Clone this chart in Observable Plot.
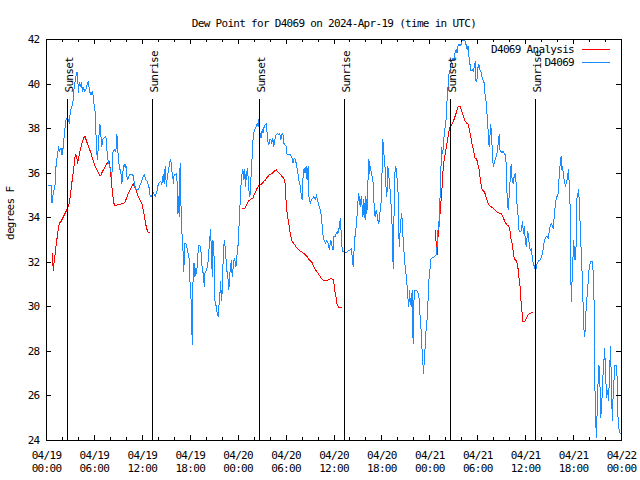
<!DOCTYPE html>
<html><head><meta charset="utf-8">
<script src="https://cdn.jsdelivr.net/npm/d3@7"></script>
<script src="https://cdn.jsdelivr.net/npm/@observablehq/plot@0.6"></script>
<style>body{margin:0;background:#fff}</style>
</head><body><div id="chart"></div>
<script>
const chartTitle = "Dew Point for D4069 on 2024-Apr-19 (time in UTC)";
const yLabel = "degrees F";
const startUTC = Date.UTC(2024, 3, 19);
const xMajorHours = [0, 6, 12, 18, 24, 30, 36, 42, 48, 54, 60, 66, 72];
const xMinorHours = [2, 4, 8, 10, 14, 16, 20, 22, 26, 28, 32, 34, 38, 40, 44, 46, 50, 52, 56, 58, 62, 64, 68, 70];
const yTicks = [24, 26, 28, 30, 32, 34, 36, 38, 40, 42];
const sunLabels = ["Sunset", "Sunrise", "Sunset", "Sunrise", "Sunset", "Sunrise"];
const sunHours = [2.60, 13.27, 26.64, 37.28, 50.54, 61.18];
const seriesNames = ["D4069 Analysis", "D4069"];
const seriesColors = ["#ff0000", "#1a8cff"];

// [hours since 2024-04-19 00:00 UTC, dew point °F]
const analysisDay1 = [[0.69,32.40],[0.86,31.65],[0.98,32.10],[1.19,32.70],[1.40,33.30],[1.61,33.75],[1.82,33.83],[2.02,33.98],[2.23,34.13],[2.44,34.28],[2.65,34.43],[2.86,34.65],[3.07,35.25],[3.27,35.85],[3.44,36.30],[3.61,36.83],[3.77,36.75],[3.90,36.45],[4.02,36.68],[4.23,37.05],[4.44,37.35],[4.65,37.58],[4.82,37.65],[5.02,37.43],[5.27,37.20],[5.57,36.90],[5.86,36.53],[6.11,36.30],[6.40,36.08],[6.61,35.93],[6.77,35.88],[7.02,36.08],[7.36,36.30],[7.65,36.48],[7.86,36.53],[7.98,36.23],[8.15,35.55],[8.27,35.10],[8.44,34.65],[8.61,34.53],[8.90,34.58],[9.32,34.62],[9.82,34.68],[10.02,34.88],[10.36,35.18],[10.65,35.40],[10.86,35.52],[11.11,35.33],[11.40,35.03],[11.69,34.80],[11.94,34.65],[12.11,34.35],[12.27,34.05],[12.44,33.68],[12.65,33.38],[12.86,33.33]];
const analysisDay2 = [[24.51,34.43],[24.84,34.43],[25.05,34.58],[25.26,34.73],[25.55,34.83],[25.84,34.88],[26.09,35.10],[26.38,35.33],[26.59,35.43],[26.80,35.48],[27.01,35.55],[27.22,35.63],[27.42,35.70],[27.63,35.81],[27.92,35.93],[28.26,36.00],[28.51,36.08],[28.76,36.15],[29.01,36.03],[29.30,35.93],[29.59,35.81],[29.84,35.70],[29.92,35.25],[30.01,34.65],[30.13,34.20],[30.34,33.75],[30.55,33.23],[30.76,32.93],[31.09,32.78],[31.38,32.63],[31.71,32.52],[32.01,32.45],[32.34,32.36],[32.63,32.25],[32.92,32.10],[33.26,31.98],[33.46,31.80],[33.76,31.62],[34.09,31.46],[34.42,31.28],[34.71,31.16],[35.01,31.16],[35.34,31.23],[35.67,31.28],[35.95,31.20],[36.07,30.75],[36.24,30.45],[36.37,30.15],[36.57,29.97],[36.91,29.97]];
const analysisDay3 = [[48.66,33.45],[48.74,33.15],[48.82,32.70],[48.91,32.33],[48.99,33.00],[49.07,33.30],[49.16,33.83],[49.28,34.20],[49.41,34.80],[49.49,35.10],[49.62,36.00],[49.74,36.45],[49.91,36.83],[50.07,37.20],[50.24,37.50],[50.32,37.73],[50.53,38.10],[50.74,38.18],[50.95,38.33],[51.16,38.55],[51.37,38.78],[51.57,39.00],[51.78,39.00],[51.99,38.78],[52.20,38.55],[52.41,38.33],[52.62,38.25],[52.82,38.18],[52.95,37.95],[53.12,37.65],[53.24,37.35],[53.45,37.05],[53.66,36.68],[53.85,36.68],[53.97,36.45],[54.14,36.23],[54.27,35.85],[54.39,35.55],[54.56,35.25],[54.81,35.18],[54.97,35.03],[55.14,34.80],[55.39,34.58],[55.64,34.50],[55.93,34.43],[56.22,34.32],[56.47,34.23],[56.77,34.20],[56.97,34.17],[57.14,34.05],[57.31,33.90],[57.47,33.78],[57.64,33.68],[57.89,33.63],[58.02,33.45],[58.14,33.08],[58.31,32.85],[58.47,32.40],[58.60,32.13],[58.85,32.07],[59.02,31.80],[59.14,31.35],[59.31,30.90],[59.39,30.38],[59.52,29.85],[59.64,29.33],[59.89,29.33],[60.10,29.48],[60.31,29.63],[60.52,29.70],[60.72,29.73],[60.85,29.73]];
const stationReadings = [[0.27,35.45],[0.57,35.45],[0.69,34.65],[0.77,34.95],[0.90,35.18],[1.07,35.48],[1.19,36.30],[1.40,36.90],[1.52,37.20],[1.61,36.98],[1.82,37.13],[1.94,36.83],[2.11,37.20],[2.23,37.73],[2.44,38.40],[2.65,38.48],[2.86,38.25],[2.98,38.78],[3.19,39.00],[3.36,39.30],[3.44,39.75],[3.61,40.20],[3.77,40.53],[3.90,40.50],[3.98,39.60],[4.11,40.05],[4.23,39.90],[4.36,40.05],[4.52,39.68],[4.65,39.83],[4.77,39.68],[4.94,39.75],[5.15,40.05],[5.27,40.13],[5.36,39.68],[5.57,39.53],[5.77,39.68],[5.90,39.23],[6.11,38.70],[6.19,37.80],[6.32,36.83],[6.40,36.60],[6.52,37.50],[6.69,38.18],[6.82,37.65],[6.94,37.20],[7.02,37.50],[7.23,37.58],[7.44,37.65],[7.56,37.05],[7.69,36.60],[7.86,36.38],[8.07,36.08],[8.19,35.85],[8.27,36.90],[8.48,37.05],[8.69,36.98],[8.82,37.73],[8.90,37.20],[8.98,36.75],[9.11,36.30],[9.32,36.00],[9.44,35.55],[9.52,35.85],[9.61,36.23],[9.73,36.38],[9.86,36.23],[9.94,36.38],[10.07,35.85],[10.19,35.70],[10.36,35.93],[10.77,35.93],[10.90,35.85],[10.98,35.55],[11.19,35.25],[11.52,35.25],[11.73,35.48],[11.90,35.63],[12.11,35.85],[12.27,35.93],[12.44,35.70],[12.61,35.63],[12.86,35.33],[12.98,34.95],[13.19,34.95],[13.27,35.18],[13.40,35.10],[13.61,34.95],[13.82,35.18],[14.02,35.55],[14.32,35.63],[14.44,35.48],[14.61,35.93],[14.73,35.55],[14.86,36.30],[15.02,35.40],[15.15,35.93],[15.27,36.08],[15.44,36.53],[15.57,36.60],[15.69,36.08],[15.77,36.00],[15.90,35.55],[15.98,35.93],[16.11,35.93],[16.32,36.00],[16.44,34.20],[16.52,34.95],[16.61,34.05],[16.73,36.45],[16.82,34.80],[16.94,33.45],[17.11,32.40],[17.19,31.58],[17.32,32.85],[17.44,32.85],[17.65,32.55],[17.86,32.18],[17.94,31.13],
[18.05,31.05],[18.17,29.25],[18.26,28.32],[18.34,31.05],[18.47,31.95],[18.59,31.35],[18.67,31.73],[18.80,31.50],[18.97,32.40],[19.09,32.78],[19.30,32.70],[19.42,32.10],[19.51,31.65],[19.63,31.50],[19.76,30.90],[19.84,31.50],[20.01,31.65],[20.13,31.80],[20.26,32.10],[20.42,33.00],[20.55,33.45],[20.67,32.25],[20.76,31.35],[20.84,33.00],[20.97,32.40],[21.09,30.30],[21.26,30.00],[21.38,29.70],[21.51,29.55],[21.59,30.00],[21.72,30.60],[21.80,31.13],[21.92,30.30],[22.01,30.75],[22.13,32.25],[22.26,33.00],[22.42,32.55],[22.55,31.65],[22.67,31.50],[22.84,30.75],[22.92,31.50],[23.05,31.65],[23.13,32.10],[23.26,31.35],[23.38,31.80],[23.51,32.18],[23.59,32.10],[23.72,31.80],[23.80,32.10],[23.88,32.40],[24.01,32.85],[24.09,33.53],[24.22,34.50],[24.30,35.10],[24.42,35.85],[24.59,36.15],[24.72,35.70],[24.84,36.15],[24.92,35.40],[25.05,36.00],[25.17,36.23],[25.34,35.25],[25.47,34.95],[25.59,35.70],[25.67,36.30],[25.76,36.75],[25.88,37.65],[26.05,37.95],[26.17,38.03],[26.30,38.10],[26.38,38.25],[26.51,38.10],[26.63,38.52],[26.76,37.65],[26.88,37.58],[27.01,37.95],[27.13,37.80],[27.26,38.10],[27.42,38.18],[27.55,38.25],[27.67,37.50],[27.84,37.28],[27.96,37.50],[28.09,37.50],[28.21,37.35],[28.34,37.58],[28.46,37.20],[28.59,37.50],[28.76,37.73],[28.92,37.77],[29.09,37.73],[29.21,37.77],[29.34,37.50],[29.46,37.73],[29.59,37.80],[29.71,37.35],[29.84,37.28],[30.01,37.20],[30.13,36.83],[30.34,36.83],[30.55,36.83],[30.76,36.68],[30.88,36.45],[31.01,36.68],[31.17,36.60],[31.30,36.38],[31.42,36.15],[31.59,35.70],[31.71,35.55],[31.84,35.18],[32.01,34.80],[32.13,35.85],[32.26,36.23],[32.38,36.00],[32.51,36.30],[32.63,35.70],[32.76,36.30],[32.88,34.80],[33.05,34.65],[33.17,34.80],[33.34,34.88],[33.46,34.95],[33.67,34.80],[33.80,35.03],[33.92,34.80],[34.09,34.58],[34.30,34.35],[34.42,34.05],[34.59,33.30],[34.76,33.00],[34.92,32.85],[35.09,33.00],[35.26,32.85],[35.42,32.55],[35.59,33.00],[35.76,32.70],[35.88,32.55],
[35.99,33.15],[36.16,33.15],[36.28,33.30],[36.41,33.38],[36.49,33.30],[36.57,33.45],[36.70,33.60],[36.78,33.98],[36.91,33.30],[36.99,32.70],[37.12,32.48],[37.32,32.45],[37.62,32.45],[37.82,32.52],[38.03,32.55],[38.16,32.63],[38.24,32.40],[38.32,32.10],[38.41,31.80],[38.49,32.40],[38.57,32.85],[38.66,33.30],[38.78,33.60],[38.91,34.20],[38.99,34.65],[39.07,35.10],[39.20,34.80],[39.28,34.50],[39.41,34.95],[39.49,34.65],[39.62,34.05],[39.74,34.80],[39.82,34.20],[39.91,33.90],[39.99,34.95],[40.12,34.20],[40.24,35.55],[40.37,36.60],[40.49,36.00],[40.57,36.30],[40.66,36.00],[40.78,35.85],[40.91,35.55],[40.99,34.80],[41.07,34.20],[41.16,34.05],[41.28,34.35],[41.41,34.13],[41.49,33.90],[41.62,33.75],[41.74,34.20],[41.87,34.50],[41.99,35.70],[42.12,37.50],[42.20,37.05],[42.32,36.60],[42.45,36.00],[42.53,35.25],[42.62,34.95],[42.74,36.30],[42.82,36.00],[42.91,35.70],[43.03,35.25],[43.16,34.50],[43.24,34.05],[43.32,33.00],[43.41,31.73],[43.49,33.60],[43.57,35.25],[43.66,36.30],[43.78,36.23],[43.91,35.70],[44.03,35.10],[44.16,32.70],[44.24,33.15],[44.37,33.90],[44.49,34.20],[44.57,33.60],[44.66,33.00],[44.78,32.40],[44.91,31.80],[45.03,31.43],[45.16,30.90],[45.28,30.30],[45.37,30.00],[45.45,30.75],[45.57,30.15],[45.70,30.00],[45.78,30.75],[45.87,28.95],[45.91,28.35],[45.99,30.15],[46.12,30.75],[46.28,30.75],[46.45,30.68],[46.62,30.53],[46.70,30.15],[46.78,29.55],[46.91,28.95],[47.03,28.05],[47.12,27.60],[47.20,27.00],[47.28,27.45],[47.37,27.90],[47.49,28.80],[47.62,29.25],[47.74,30.00],[47.82,30.60],[47.91,31.35],[47.99,31.65],[48.07,31.80],[48.16,32.18],[48.37,32.21],[48.57,32.25],[48.78,32.33],[48.91,32.70],[48.99,33.15],[49.07,33.83],[49.16,33.60],[49.24,34.50],[49.32,35.40],[49.41,36.45],[49.45,37.17],[49.53,37.05],[49.62,36.90],[49.74,37.50],[49.87,37.95],[49.99,38.25],[50.07,38.55],[50.16,39.30],[50.28,39.90],[50.41,40.50],[50.53,40.65],[50.66,40.95],[50.78,41.10],[50.91,41.18],[51.03,41.10],[51.16,41.40],[51.28,41.55],[51.41,41.40],[51.53,41.70],[51.66,41.78],[51.78,41.70],[51.91,41.78],[52.03,41.93],[52.16,41.96],[52.28,41.97],[52.41,41.93],[52.53,41.78],[52.66,41.55],[52.78,41.70],[52.91,41.18],[53.03,40.88],[53.16,40.58],[53.32,40.65],[53.45,40.58],[53.57,40.80],[53.70,41.03],[53.77,40.13],
[53.89,40.13],[54.02,40.73],[54.14,40.88],[54.27,40.65],[54.39,40.58],[54.52,40.35],[54.64,40.20],[54.77,40.13],[54.89,39.60],[55.02,39.30],[55.14,38.78],[55.27,38.10],[55.35,37.50],[55.43,37.20],[55.52,37.65],[55.64,38.18],[55.72,37.50],[55.85,37.05],[55.93,36.30],[56.06,36.45],[56.22,36.68],[56.35,36.75],[56.47,37.05],[56.56,37.35],[56.68,37.73],[56.77,37.05],[56.89,36.98],[57.06,36.90],[57.18,36.98],[57.31,36.90],[57.43,36.83],[57.56,36.45],[57.68,34.95],[57.81,34.35],[57.93,34.95],[58.06,35.70],[58.18,36.38],[58.31,35.70],[58.43,35.55],[58.56,35.85],[58.68,36.00],[58.81,35.55],[58.93,34.50],[59.06,34.05],[59.18,33.38],[59.35,33.38],[59.47,33.45],[59.60,33.83],[59.72,33.30],[59.85,33.60],[59.97,32.85],[60.10,32.70],[60.22,33.38],[60.35,33.23],[60.47,32.70],[60.60,32.55],[60.72,32.63],[60.85,32.10],[60.97,31.95],[61.14,31.73],[61.31,31.73],[61.43,31.95],[61.56,32.03],[61.68,32.10],[61.81,32.10],[61.97,32.25],[62.10,32.40],[62.22,32.63],[62.35,33.00],[62.47,33.08],[62.60,33.15],[62.72,33.15],[62.85,33.08],[62.97,33.45],[63.10,33.68],[63.22,33.75],[63.35,33.60],[63.47,33.53],[63.60,34.20],[63.72,34.58],[63.85,34.95],[64.02,34.95],[64.14,35.40],[64.22,36.15],[64.35,36.45],[64.43,36.75],[64.52,36.15],[64.64,36.30],[64.72,35.85],[64.85,35.70],[64.97,35.40],[65.10,35.55],[65.22,35.78],[65.35,36.15],[65.43,35.70],[65.56,34.58],[65.64,31.65],[65.72,30.23],[65.81,31.20],[65.93,32.25],[66.02,33.00],[66.10,32.40],[66.18,32.10],[66.31,32.70],[66.39,34.80],[66.52,35.03],[66.64,35.25],[66.77,34.20],[66.89,33.00],[67.02,31.95],[67.14,30.75],[67.22,29.70],[67.31,28.95],[67.39,28.65],[67.47,29.10],[67.60,30.15],[67.72,30.60],[67.81,31.05],[67.93,31.65],[68.06,31.95],[68.18,32.03],[68.35,32.03],[68.47,31.50],[68.56,30.30],[68.64,27.30],[68.72,25.35],[68.85,24.15],[68.97,25.50],[69.06,26.55],[69.18,27.38],[69.31,26.40],[69.39,25.05],[69.52,25.50],[69.64,26.70],[69.77,27.38],[69.89,28.13],[70.02,26.85],[70.14,25.95],[70.27,26.25],[70.39,25.80],[70.52,27.30],[70.64,28.20],[70.72,26.70],[70.85,24.90],[70.93,25.80],[71.06,26.70],[71.18,27.38],[71.35,27.38],[71.47,26.70],[71.56,25.05],[71.68,24.53],[71.85,24.30]];

const T = h => new Date(startUTC + h * 3600e3);
const station = stationReadings.map(([h, v]) => ({t: T(h), v}));
const analysis = [analysisDay1, analysisDay2, analysisDay3].flatMap((part, i) => part.map(([h, v]) => ({t: T(h), v, seg: i})));
const sun = sunLabels.map((label, i) => ({t: T(sunHours[i]), label}));
const majors = xMajorHours.map(T);
const minors = xMinorHours.map(T);
const W = 640, H = 480, mL = 46, mR = 19, mT = 39, mB = 40;
const frameH = H - mT - mB, frameW = W - mL - mR;
const fmt = d3.utcFormat("%m/%d\n%H:%M");
const font = "'DejaVu Sans Mono', monospace";

const plot = Plot.plot({
  width: W, height: H,
  marginLeft: mL, marginRight: mR, marginTop: mT, marginBottom: mB,
  x: {type: "utc", domain: [T(0), T(72)], axis: null},
  y: {domain: [24, 42], axis: null},
  style: {fontFamily: font, fontSize: "11px", letterSpacing: "-0.7px", background: "white", color: "black", shapeRendering: "crispEdges"},
  marks: [
    Plot.line(analysis, {x: "t", y: "v", z: "seg", stroke: seriesColors[0], strokeWidth: 1}),
    Plot.line(station, {x: "t", y: "v", stroke: seriesColors[1], strokeWidth: 1}),
    Plot.ruleX(sun, {x: "t", insetTop: 60, stroke: "black"}),
    Plot.text(sun, {x: "t", text: "label", frameAnchor: "top", rotate: -90, textAnchor: "start", dy: 53, dx: -2, fill: "black"}),
    Plot.ruleX(majors, {insetTop: frameH - 5}),
    Plot.ruleX(majors, {insetBottom: frameH - 5}),
    Plot.ruleX(minors, {insetTop: frameH - 3}),
    Plot.ruleX(minors, {insetBottom: frameH - 3}),
    Plot.ruleY(yTicks, {insetRight: frameW - 5}),
    Plot.ruleY(yTicks, {insetLeft: frameW - 5}),
    Plot.frame({stroke: "black"}),
    Plot.text(majors, {x: d => d, text: d => fmt(d), frameAnchor: "bottom", lineAnchor: "top", dy: 10, lineHeight: 1.15, fill: "black"}),
    Plot.text(yTicks, {y: d => d, text: d => String(d), frameAnchor: "left", textAnchor: "end", dx: -7, fill: "black"}),
    Plot.text([yLabel], {frameAnchor: "left", rotate: -90, dx: -36, fill: "black"}),
    Plot.text([chartTitle], {frameAnchor: "top", dy: -20, fill: "black"})
  ]
});

const svg = d3.select(plot);
const lg = svg.append("g");
seriesNames.forEach((name, i) => {
  const y = 49.5 + i * 13;
  lg.append("text").attr("x", 574).attr("y", y).attr("dy", "0.32em").attr("text-anchor", "end").attr("fill", "black").text(name);
  lg.append("line").attr("x1", 582).attr("x2", 610).attr("y1", y).attr("y2", y).attr("stroke", seriesColors[i]).attr("stroke-width", 1);
});
document.getElementById("chart").appendChild(plot);
</script>
</body></html>
